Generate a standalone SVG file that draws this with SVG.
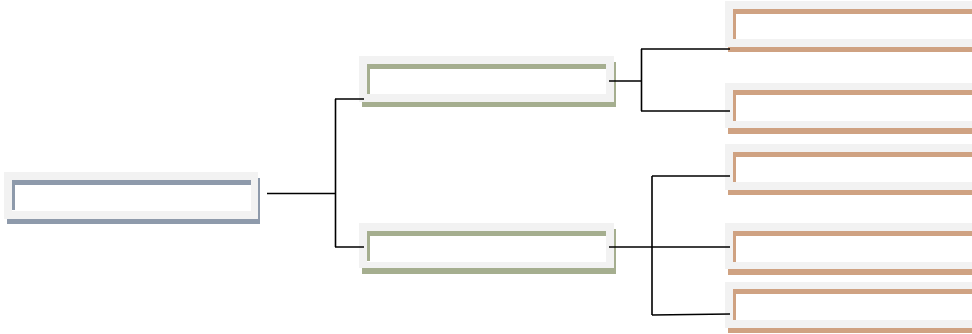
<svg xmlns="http://www.w3.org/2000/svg" width="972" height="334" viewBox="0 0 972 334">
<style>
.bg{fill:#f2f2f2}
.in{fill:#ffffff}
.b{fill:#8e9aab}
.g{fill:#a5ae8f}
.t{fill:#cfa282}
.ln{fill:none;stroke:#000;stroke-width:1.6}
</style>
<rect width="972" height="334" fill="#fff"/>
<g id="root">
<rect class="b" x="7" y="178" width="253" height="46"/>
<rect class="bg" x="4" y="172" width="254" height="47"/>
<rect class="in" x="12" y="180" width="239" height="31"/>
<rect class="b" x="12" y="180" width="239" height="5"/>
<rect class="b" x="12" y="180" width="3" height="30"/>
</g>
<g id="mid1">
<rect class="g" x="362" y="62" width="254" height="45"/>
<rect class="bg" x="359" y="56" width="255" height="46"/>
<rect class="in" x="367" y="64" width="239" height="30"/>
<rect class="g" x="367" y="64" width="239" height="5"/>
<rect class="g" x="367" y="64" width="3" height="30"/>
</g>
<g id="mid2">
<rect class="g" x="362" y="229" width="254" height="45"/>
<rect class="bg" x="359" y="223" width="255" height="45"/>
<rect class="in" x="367" y="231" width="239" height="31"/>
<rect class="g" x="367" y="231" width="239" height="5"/>
<rect class="g" x="367" y="231" width="3" height="30"/>
</g>
<g id="leaf1">
<rect class="t" x="728" y="7" width="260" height="45"/>
<rect class="bg" x="725" y="1" width="260" height="46"/>
<rect class="in" x="733" y="9" width="260" height="30"/>
<rect class="t" x="733" y="9" width="260" height="5"/>
<rect class="t" x="733" y="9" width="3" height="30"/>
</g>
<g id="leaf2">
<rect class="t" x="728" y="89" width="260" height="45"/>
<rect class="bg" x="725" y="83" width="260" height="45"/>
<rect class="in" x="733" y="90" width="260" height="31"/>
<rect class="t" x="733" y="90" width="260" height="5"/>
<rect class="t" x="733" y="90" width="3" height="31"/>
</g>
<g id="leaf3">
<rect class="t" x="728" y="150" width="260" height="45"/>
<rect class="bg" x="725" y="144" width="260" height="46"/>
<rect class="in" x="733" y="152" width="260" height="30"/>
<rect class="t" x="733" y="152" width="260" height="5"/>
<rect class="t" x="733" y="152" width="3" height="30"/>
</g>
<g id="leaf4">
<rect class="t" x="728" y="229" width="260" height="46"/>
<rect class="bg" x="725" y="223" width="260" height="46"/>
<rect class="in" x="733" y="231" width="260" height="31"/>
<rect class="t" x="733" y="231" width="260" height="5"/>
<rect class="t" x="733" y="231" width="3" height="31"/>
</g>
<g id="leaf5">
<rect class="t" x="728" y="288" width="260" height="45"/>
<rect class="bg" x="725" y="282" width="260" height="46"/>
<rect class="in" x="733" y="289" width="260" height="31"/>
<rect class="t" x="733" y="289" width="260" height="5"/>
<rect class="t" x="733" y="289" width="3" height="31"/>
</g>
<g id="connectors">
<path class="ln" d="M267 193.5H335.5M335.5 99V247M335 99H364M335 247H364"/>
<path class="ln" d="M609 81H641.5M641.5 49V111M641 49H730M641 111H730"/>
<path class="ln" d="M609 247H730M652 176V315M652 176H730M652 315L730 314"/>
</g>
</svg>
